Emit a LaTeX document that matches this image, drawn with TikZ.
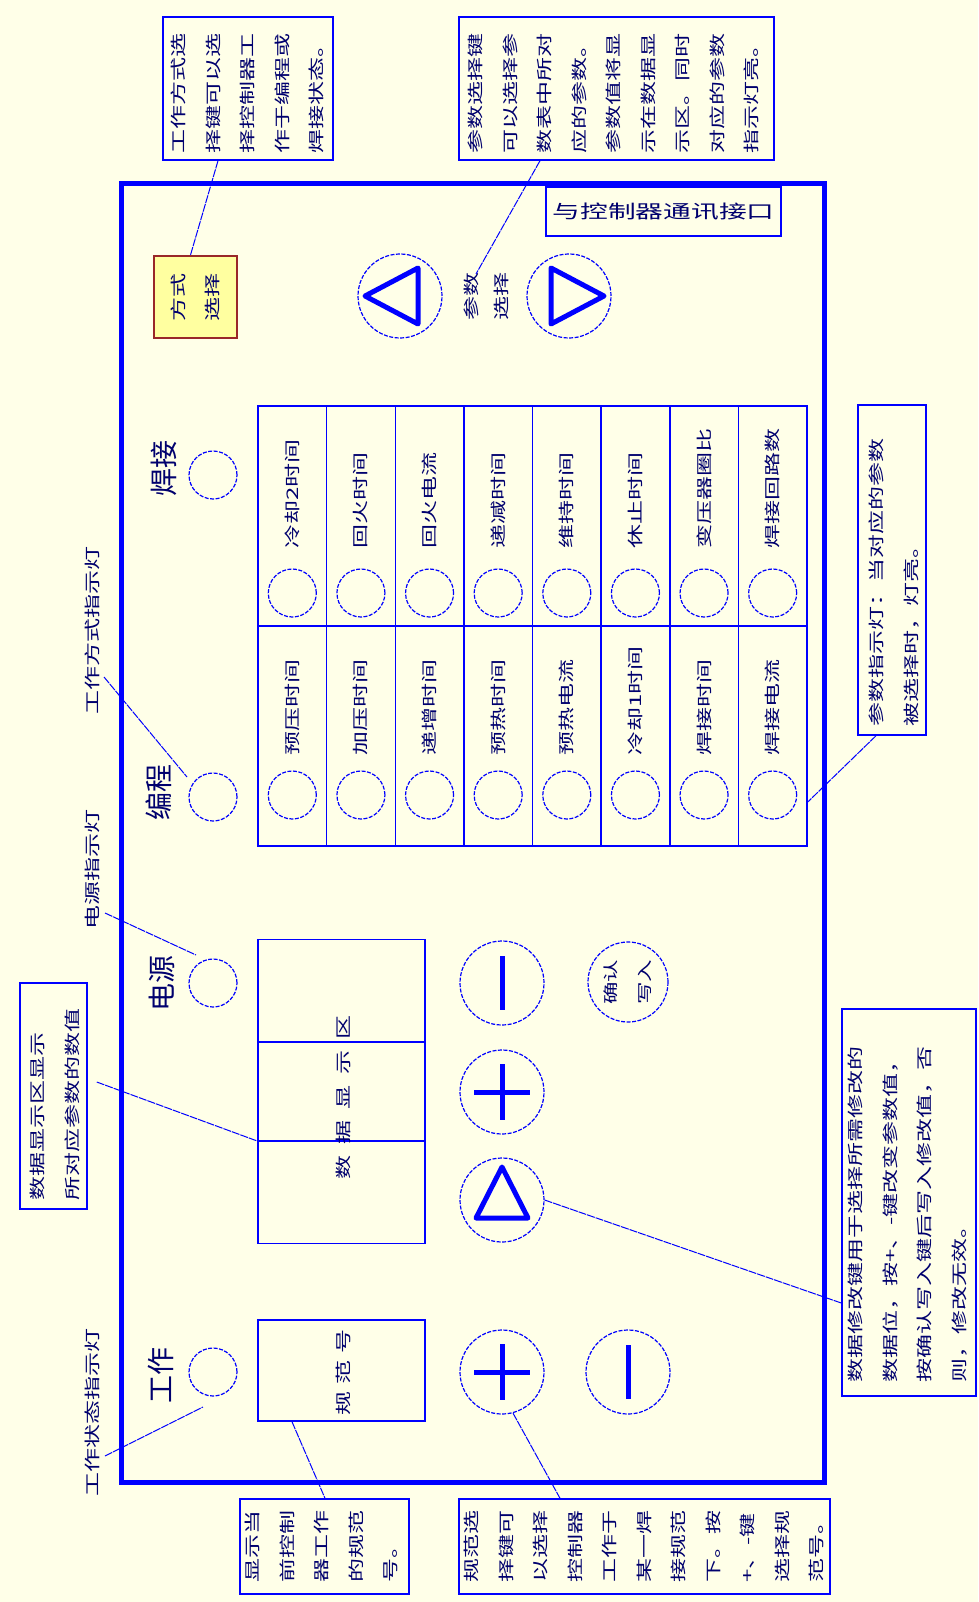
\documentclass[tikz,border=0pt]{standalone}
\usepackage{fontspec}
\setmainfont{Noto Sans CJK SC}[FakeStretch=1.5]
\newfontfamily\bigcjk{Noto Sans CJK SC}
\usetikzlibrary{positioning}

\definecolor{panelblue}{RGB}{0,0,255}
\definecolor{inkblue}{RGB}{0,0,110}
\definecolor{paper}{RGB}{255,255,232}
\definecolor{keyfill}{RGB}{255,255,160}
\definecolor{keyedge}{RGB}{153,40,40}

\tikzset{
  note/.style={draw=panelblue, line width=1.5pt, inner sep=0pt},
  gridline/.style={draw=panelblue, line width=1.5pt},
  vtxt/.style={rotate=90, text=inkblue, inner sep=0pt, align=left,
    font=\fontsize{16}{34.5}\selectfont},
  biglbl/.style={rotate=90, text=inkblue, inner sep=0pt,
    font=\bigcjk\fontsize{28}{30}\selectfont},
  lamp/.style={circle, draw=panelblue, line width=1.2pt,
    dash pattern=on 4pt off 1.5pt, minimum size=48pt, inner sep=0pt},
  btn/.style={lamp, minimum size=84pt},
  sym/.style={draw=panelblue, line width=5pt, line join=round},
  leader/.style={draw=panelblue, line width=1pt, dash pattern=on 8pt off 1pt},
}

\begin{document}
\begin{tikzpicture}[x=1pt, y=-1pt]
  \useasboundingbox (0,0) rectangle (978,1602);
  \fill[paper] (0,0) rectangle (978,1602);

  \node[draw=panelblue, line width=5pt, minimum width=703pt, minimum height=1298pt, inner sep=0pt] (panel) at (472.5,833) {};

  \node[note, minimum width=170pt, minimum height=143pt] (modenote) at (248,88.5) {};
  \node[vtxt, anchor=north west] (modenotetxt) at (171,154) {工作方式选\\择键可以选\\择控制器工\\作于编程或\\焊接状态。};
  \node[note, minimum width=315pt, minimum height=143pt] (parnote) at (616.5,88.5) {};
  \node[vtxt, anchor=north west] (parnotetxt) at (468,154) {参数选择键\\可以选择参\\数表中所对\\应的参数。\\参数值将显\\示在数据显\\示区。同时\\对应的参数\\指示灯亮。};
  \node[note, minimum width=235pt, minimum height=49pt, text=inkblue, font=\fontsize{18.5}{20}\selectfont] (commport) at (663.5,211.5) {与控制器通讯接口};

  \node[draw=keyedge, fill=keyfill, line width=2pt, minimum width=83pt, minimum height=82pt] (modekey) at (195.5,297) {};
  \node[vtxt, align=center] (modekeytxt) at (modekey) {方式\\选择};

  \node[btn] (parprev) at (400,296) {};
  \draw[sym, shift={(parprev.center)}] (-35,0) -- (18,-28) -- (18,28) -- cycle;
  \node[btn] (parnext) at (569,296) {};
  \draw[sym, shift={(parnext.center)}] (35,0) -- (-18,-28) -- (-18,28) -- cycle;
  \node[vtxt, align=center, font=\fontsize{16}{30}\selectfont] (parlbl) at (486,296) {参数\\选择};

  \node[lamp] (lweld) at (213,475) {};
  \node[lamp] (lprog) at (213,797) {};
  \node[lamp] (lpower) at (213,983) {};
  \node[lamp] (lwork) at (213,1372) {};
  \node[biglbl] (lweldtxt) at (164,468) {焊接};
  \node[biglbl] (lprogtxt) at (159,792) {编程};
  \node[biglbl] (lpowertxt) at (162,983) {电源};
  \node[biglbl] (lworktxt) at (161,1375) {工作};

  \node[vtxt, anchor=west] (modelamp) at (92,715) {工作方式指示灯};
  \node[vtxt, anchor=west] (powerlamp) at (92,930) {电源指示灯};
  \node[vtxt, anchor=west] (worklamp) at (92,1497) {工作状态指示灯};

  \node[gridline, minimum width=549pt, minimum height=440pt, inner sep=0pt] (partab) at (532.5,626) {};
  \draw[gridline] (partab.west) -- (partab.east);
  \foreach \i in {1,...,7} \draw[gridline] ({258+68.625*\i},406) -- ++(0,440);
  \foreach \t [count=\i from 0] in {冷却2时间,回火时间,回火电流,递减时间,维持时间,休止时间,变压器圈比,焊接回路数} {
    \node[vtxt, anchor=west] (up\i) at ({292.3+68.625*\i},549) {\t};
    \node[lamp] (upl\i) at ({292.3+68.625*\i},593) {};
  }
  \foreach \t [count=\i from 0] in {预压时间,加压时间,递增时间,预热时间,预热电流,冷却1时间,焊接时间,焊接电流} {
    \node[vtxt, anchor=west] (lo\i) at ({292.3+68.625*\i},756) {\t};
    \node[lamp] (lol\i) at ({292.3+68.625*\i},795) {};
  }

  \node[note, minimum width=167pt, minimum height=304pt] (databox) at (341.5,1091.5) {};
  \draw[gridline] (258,1042) -- (425,1042);
  \draw[gridline] (258,1141) -- (425,1141);
  \node[vtxt] (datatxt) at (343,1097) {数\hspace{11pt}据\hspace{11pt}显\hspace{11pt}示\hspace{11pt}区};
  \node[note, minimum width=167pt, minimum height=101pt] (specbox) at (341.5,1370.5) {};
  \node[vtxt] (spectxt) at (343,1372) {规\hspace{7pt}范\hspace{7pt}号};

  \node[btn] (vminus) at (502,983) {};
  \draw[sym, shift={(vminus.center)}] (0,-27) -- (0,27);
  \node[btn] (vplus) at (502,1092) {};
  \draw[sym, shift={(vplus.center)}] (-28,0) -- (28,0) (0,-28) -- (0,28);
  \node[btn] (digit) at (502,1200) {};
  \draw[sym, shift={(digit.center)}] (0,-33) -- (26,18) -- (-26,18) -- cycle;
  \node[btn, minimum size=80pt] (confirm) at (628,982) {};
  \node[vtxt, align=center, font=\fontsize{15}{34}\selectfont] (confirmtxt) at (confirm) {确认\\写入};
  \node[btn] (splus) at (502,1372) {};
  \draw[sym, shift={(splus.center)}] (-28,0) -- (28,0) (0,-28) -- (0,28);
  \node[btn] (sminus) at (628,1372) {};
  \draw[sym, shift={(sminus.center)}] (0,-27) -- (0,27);

  \node[note, minimum width=67pt, minimum height=226pt] (datanote) at (53.5,1096) {};
  \node[vtxt, anchor=north west] (datanotetxt) at (30,1201) {数据显示区显示\\所对应参数的数值};
  \node[note, minimum width=68pt, minimum height=330pt] (lampnote) at (892,570) {};
  \node[vtxt, anchor=north west] (lampnotetxt) at (869,727) {参数指示灯：当对应的参数\\被选择时，灯亮。};
  \node[note, minimum width=134pt, minimum height=387pt] (digitnote) at (909,1202.5) {};
  \node[vtxt, anchor=north west] (digitnotetxt) at (848,1383) {数据修改键用于选择所需修改的\\数据位，按+、-键改变参数值，\\按确认写入键后写入修改值，否\\则，修改无效。};
  \node[note, minimum width=169pt, minimum height=95pt] (specnote) at (324.5,1546.5) {};
  \node[vtxt, anchor=north west] (specnotetxt) at (245,1583) {显示当\\前控制\\器工作\\的规范\\号。};
  \node[note, minimum width=371pt, minimum height=95pt] (selnote) at (644.5,1546.5) {};
  \node[vtxt, anchor=north west] (selnotetxt) at (464,1583) {规范选\\择键可\\以选择\\控制器\\工作于\\某一焊\\接规范\\下。按\\+、-键\\选择规\\范号。};

  \coordinate (partip) at (476,274);
  \coordinate (modelampend) at (104,677);
  \coordinate (progtip) at (187,777);
  \coordinate (powerlampend) at (105,913);
  \coordinate (powertip) at (196,955);
  \coordinate (worklampend) at (105,1456);
  \coordinate (worktip) at (203,1407);

  \draw[leader] ([xshift=-30pt]modenote.south) -- ([xshift=-5pt]modekey.north);
  \draw[leader] ([xshift=-76.5pt]parnote.south) -- (partip);
  \draw[leader] ([xshift=-16pt]lampnote.south) -- ([yshift=-176pt]partab.east);
  \draw[leader] (digit.east) -- ([yshift=-100.5pt]digitnote.west);
  \draw[leader] (splus.-75) -- ([xshift=-84.5pt]selnote.north);
  \draw[leader] ([xshift=-49.5pt]specbox.south) -- ([xshift=0.5pt]specnote.north);
  \draw[leader] ([xshift=9pt,yshift=14pt]datanote.east) -- ([yshift=-49.5pt]databox.west);
  \draw[leader] (modelampend) -- (progtip);
  \draw[leader] (powerlampend) -- (powertip);
  \draw[leader] (worklampend) -- (worktip);
\end{tikzpicture}
\end{document}
